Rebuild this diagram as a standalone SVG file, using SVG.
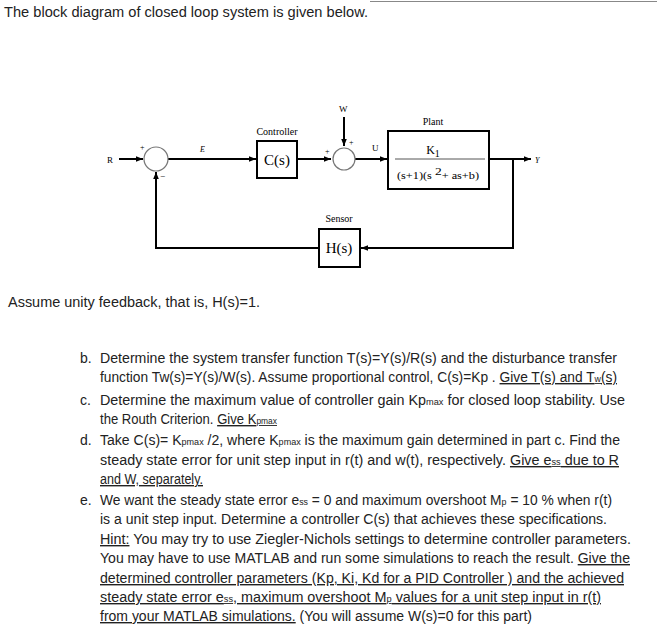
<svg xmlns="http://www.w3.org/2000/svg" width="657" height="627" viewBox="0 0 657 627">
<defs>
<marker id="ah" viewBox="0 0 10 10" refX="10" refY="5" markerWidth="7" markerHeight="7" orient="auto" markerUnits="userSpaceOnUse"><path d="M0,1 L10,5 L0,9 z" fill="#000"/></marker>
<style>
.ln{stroke:#000;stroke-width:2;fill:none}
.bx{stroke:#000;stroke-width:2;fill:#fff}
.sj{stroke:#777;stroke-width:1.2;fill:#fff}
.sr{font-family:"Liberation Serif",serif;fill:#000}
.tx{font-family:"Liberation Sans",sans-serif;font-size:14px;fill:#222}
.u{text-decoration:underline}
.s{font-size:9px}
</style>
</defs>
<rect width="657" height="627" fill="#fff"/>
<line x1="370" y1="1.5" x2="657" y2="1.5" stroke="#888" stroke-width="1"/>
<text class="tx" x="4" y="17" textLength="364" lengthAdjust="spacingAndGlyphs">The block diagram of closed loop system is given below.</text>
<g id="connectors">
<line class="ln" x1="119" y1="159" x2="143" y2="159" marker-end="url(#ah)"/>
<line class="ln" x1="168" y1="159" x2="256" y2="159" marker-end="url(#ah)"/>
<line class="ln" x1="298" y1="159" x2="331" y2="159" marker-end="url(#ah)"/>
<line class="ln" x1="344" y1="117" x2="344" y2="146" stroke-width="1" marker-end="url(#ah)"/>
<line class="ln" x1="355" y1="159" x2="387" y2="159" marker-end="url(#ah)"/>
<line class="ln" x1="490" y1="159" x2="531" y2="159" marker-end="url(#ah)"/>
<polyline class="ln" points="513,159 513,248 361,248" marker-end="url(#ah)"/>
<polyline class="ln" points="319,248 156,248 156,172" marker-end="url(#ah)"/>
</g>
<g id="sum1"><circle class="sj" cx="156" cy="159" r="12"/><text class="sr" x="140" y="150" font-size="8">+</text><text class="sr" x="160" y="179" font-size="9">−</text></g>
<g id="sum2"><circle class="sj" cx="344" cy="159" r="11"/><text class="sr" x="325" y="154" font-size="8">+</text><text class="sr" x="349" y="145" font-size="8">+</text></g>
<g id="labels">
<text class="sr" x="107" y="163" font-size="9">R</text>
<text class="sr" x="200" y="152" font-size="8" font-style="italic" fill="#555">E</text>
<text class="sr" x="339" y="112" font-size="9">W</text>
<text class="sr" x="372" y="151" font-size="9">U</text>
<text class="sr" x="535" y="163" font-size="8" font-style="italic" fill="#555">Y</text>
</g>
<g id="controller"><text class="sr" x="277" y="135" font-size="10" text-anchor="middle">Controller</text><rect class="bx" x="257" y="141" width="40" height="37"/><text class="sr" x="277" y="165" font-size="15" text-anchor="middle">C(s)</text></g>
<g id="plant"><text class="sr" x="433" y="125" font-size="10" text-anchor="middle">Plant</text><rect class="bx" x="388" y="131" width="101" height="58"/>
<text class="sr" x="433" y="154" font-size="12" text-anchor="middle">K<tspan font-size="10" dy="3">1</tspan></text>
<line x1="395" y1="159" x2="485" y2="159" stroke="#555" stroke-width="1"/>
<text class="sr" x="397" y="179" font-size="10" textLength="82" lengthAdjust="spacingAndGlyphs">(s+1)(s <tspan font-size="11" dy="-4">2</tspan><tspan dy="4">+ as+b)</tspan></text></g>
<g id="sensor"><text class="sr" x="339" y="222" font-size="10" text-anchor="middle">Sensor</text><rect class="bx" x="319" y="229" width="41" height="38"/><text class="sr" x="339" y="253" font-size="15" text-anchor="middle">H(s)</text></g>
<text class="tx" x="8" y="307" textLength="252" lengthAdjust="spacingAndGlyphs">Assume unity feedback, that is, H(s)=1.</text>
<g id="body">
<text class="tx" x="80" y="363">b.</text><text class="tx" x="80" y="405">c.</text><text class="tx" x="80" y="445">d.</text><text class="tx" x="80" y="505">e.</text>
<text class="tx" x="100" y="363" textLength="517" lengthAdjust="spacingAndGlyphs">Determine the system transfer function T(s)=Y(s)/R(s) and the disturbance transfer</text>
<text class="tx" x="100" y="382" textLength="517" lengthAdjust="spacingAndGlyphs">function Tw(s)=Y(s)/W(s). Assume proportional control, C(s)=Kp . <tspan class="u">Give T(s) and T<tspan class="s">w</tspan>(s)</tspan></text>
<text class="tx" x="100" y="405" textLength="525" lengthAdjust="spacingAndGlyphs">Determine the maximum value of controller gain Kp<tspan class="s">max</tspan>  for closed loop stability. Use</text>
<text class="tx" x="100" y="424" textLength="177" lengthAdjust="spacingAndGlyphs">the Routh Criterion. <tspan class="u">Give K<tspan class="s">pmax</tspan></tspan></text>
<text class="tx" x="100" y="445" textLength="520" lengthAdjust="spacingAndGlyphs">Take C(s)= K<tspan class="s">pmax</tspan> /2, where K<tspan class="s">pmax</tspan> is the maximum gain determined in part c. Find the</text>
<text class="tx" x="100" y="465" textLength="519" lengthAdjust="spacingAndGlyphs">steady state error for unit step input in r(t) and w(t), respectively.  <tspan class="u">Give e<tspan class="s">ss</tspan> due to R</tspan></text>
<text class="tx u" x="100" y="484" textLength="103" lengthAdjust="spacingAndGlyphs">and W, separately.</text>
<text class="tx" x="100" y="505" textLength="512" lengthAdjust="spacingAndGlyphs">We want the steady state error e<tspan class="s">ss</tspan> = 0 and maximum overshoot M<tspan class="s">p</tspan> = 10 % when r(t)</text>
<text class="tx" x="100" y="524" textLength="507" lengthAdjust="spacingAndGlyphs">is a unit step input. Determine a controller C(s) that achieves these specifications.</text>
<text class="tx" x="100" y="544" textLength="531" lengthAdjust="spacingAndGlyphs"><tspan class="u">Hint:</tspan> You may try to use Ziegler-Nichols settings to determine controller parameters.</text>
<text class="tx" x="100" y="563" textLength="530" lengthAdjust="spacingAndGlyphs">You may have to use MATLAB and run some simulations to reach the result. <tspan class="u">Give the</tspan></text>
<text class="tx u" x="100" y="583" textLength="524" lengthAdjust="spacingAndGlyphs">determined controller parameters (Kp, Ki, Kd for a PID Controller ) and the achieved</text>
<text class="tx u" x="100" y="602" textLength="501" lengthAdjust="spacingAndGlyphs">steady state error e<tspan class="s">ss</tspan>, maximum overshoot M<tspan class="s">p</tspan> values for a unit step input in r(t)</text>
<text class="tx" x="100" y="621" textLength="432" lengthAdjust="spacingAndGlyphs"><tspan class="u">from your MATLAB simulations.</tspan> (You will assume W(s)=0 for this part)</text>
</g>
</svg>
